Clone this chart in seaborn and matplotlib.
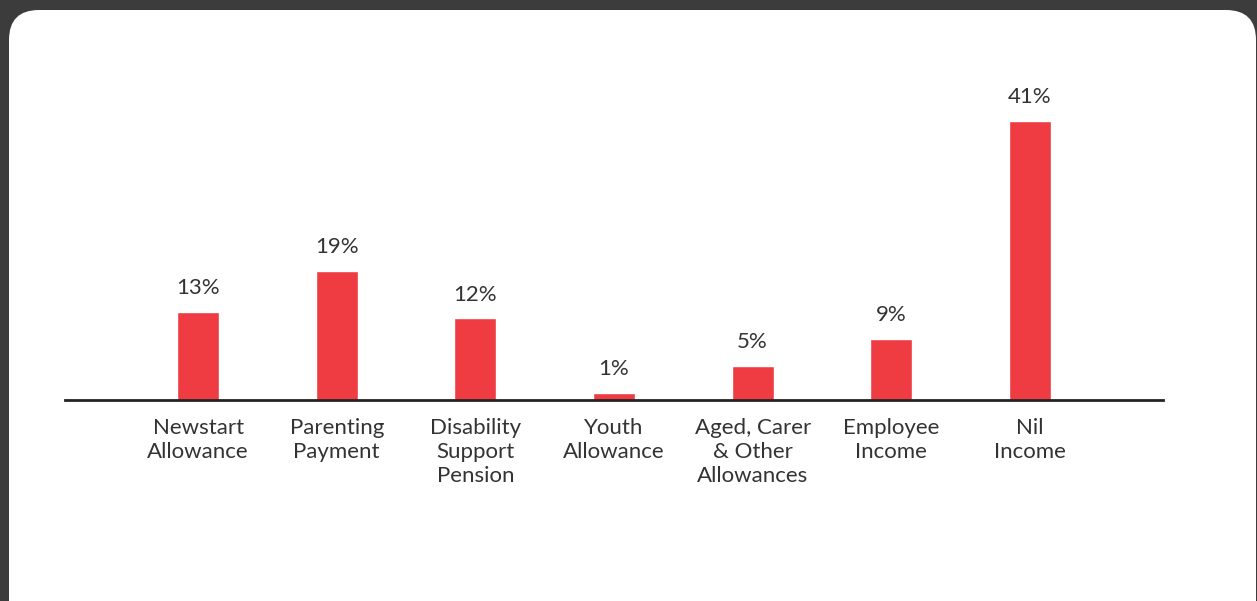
import matplotlib
matplotlib.use("Agg")
import matplotlib.pyplot as plt
from matplotlib.patches import FancyBboxPatch
from matplotlib.transforms import IdentityTransform
import seaborn as sns
import pandas as pd

# Income source of clients
categories = [
    "Newstart\nAllowance",
    "Parenting\nPayment",
    "Disability\nSupport\nPension",
    "Youth\nAllowance",
    "Aged, Carer\n& Other\nAllowances",
    "Employee\nIncome",
    "Nil\nIncome",
]
values = [13, 19, 12, 1, 5, 9, 41]
value_labels = ["13%", "19%", "12%", "1%", "5%", "9%", "41%"]

BAR_RED = "#ef3b42"
TEXT = "#333333"
BG = "#3c3c3c"

sns.set_theme(style="white")
plt.rcParams["font.family"] = ["Lato", "DejaVu Sans"]

W, H, DPI = 1257, 601, 100
fig = plt.figure(figsize=(W / DPI, H / DPI), dpi=DPI, facecolor=BG)

# White rounded card behind the chart (pixel coordinates)
card = FancyBboxPatch((9, -40), 1247, 631,
                      boxstyle="round,pad=0,rounding_size=30",
                      facecolor="white", edgecolor="none",
                      transform=IdentityTransform(), zorder=-10)
fig.add_artist(card)

ax = fig.add_axes([65 / W, (H - 400) / H, 1098 / W, 340 / H])
ax.set_facecolor("none")
ax.set_zorder(1)

df = pd.DataFrame({"source": categories, "share": values})
sns.barplot(data=df, x="source", y="share", color=BAR_RED, width=0.303,
            saturation=1, ax=ax)

for patch, lab in zip(ax.patches, value_labels):
    ax.annotate(lab, (patch.get_x() + patch.get_width() / 2, patch.get_height()),
                xytext=(0, 10), textcoords="offset points",
                ha="center", va="bottom", fontsize=16, color=TEXT)

ax.set_xlim(-0.96, 6.96)
ax.set_ylim(0, 50)
ax.set_xlabel("")
ax.set_ylabel("")
ax.set_yticks([])
ax.tick_params(axis="x", length=0, pad=13, labelsize=16, labelcolor=TEXT)
for t in ax.get_xticklabels():
    t.set_linespacing(1.25)
for side in ["top", "left", "right"]:
    ax.spines[side].set_visible(False)
ax.spines["bottom"].set_color("#222222")
ax.spines["bottom"].set_linewidth(2)

fig.savefig("out.png", dpi=DPI, facecolor=BG)
